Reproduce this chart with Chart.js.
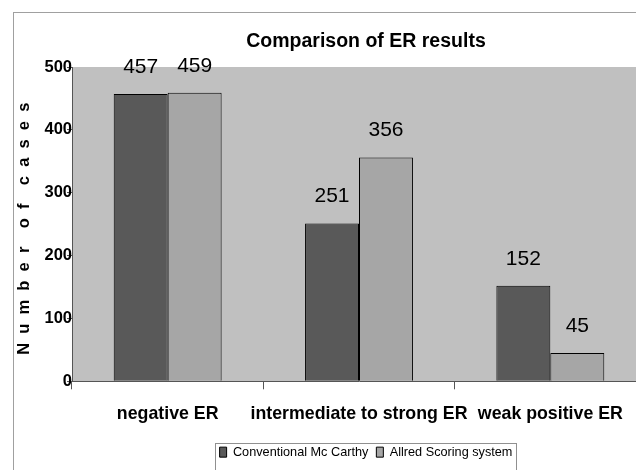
<!DOCTYPE html>
<html>
<head>
<meta charset="utf-8">
<script src="https://cdn.jsdelivr.net/npm/chart.js@4.4.1/dist/chart.umd.min.js"></script>
<style>
  html, body { margin: 0; padding: 0; background: #fff; overflow: hidden; }
  #wrap { position: relative; width: 636px; height: 470px; overflow: hidden; }
  #frame { position: absolute; left: 13px; top: 12px; width: 800px; height: 600px;
           border-left: 1px solid #a0a0a0; border-top: 1px solid #a0a0a0; }
  #chart { position: absolute; left: 0; top: 0; }
</style>
</head>
<body>
<div id="wrap">
  <div id="frame"></div>
  <canvas id="chart" width="732" height="470"></canvas>
</div>
<script>
const categories = ['negative ER', 'intermediate to strong ER', 'weak positive ER'];
const mcCarthy = [457, 251, 152];
const allred = [459, 356, 45];
const yTicks = [0, 100, 200, 300, 400, 500];

const FONT = '"Liberation Sans", Arial, sans-serif';
Chart.defaults.font.family = FONT;
Chart.defaults.color = '#000';

// grey plot area like the old Excel chart
const plotBg = {
  id: 'plotBg',
  beforeDraw(chart) {
    const {ctx, chartArea: a} = chart;
    ctx.save();
    ctx.fillStyle = '#c0c0c0';
    ctx.fillRect(a.left, a.top, a.right - a.left, a.bottom - a.top);
    ctx.restore();
  }
};

// numbers above bars
const valueLabels = {
  id: 'valueLabels',
  afterDatasetsDraw(chart) {
    const ctx = chart.ctx;
    ctx.save();
    ctx.font = '21px ' + FONT;
    ctx.fillStyle = '#000';
    ctx.textAlign = 'center';
    ctx.textBaseline = 'middle';
    chart.data.datasets.forEach((ds, i) => {
      chart.getDatasetMeta(i).data.forEach((bar, j) => {
        ctx.fillText(String(ds.data[j]), bar.x, bar.y - 27);
      });
    });
    ctx.restore();
  }
};

// thin frame round the legend
const legendBox = {
  id: 'legendBox',
  afterDraw(chart) {
    const hb = chart.legend && chart.legend.legendHitBoxes;
    if (!hb || !hb.length) return;
    const ctx = chart.ctx;
    const first = hb[0], last = hb[hb.length - 1];
    const x0 = Math.round(first.left - 5);
    const x1 = Math.round(last.left + last.width + 4);
    const y0 = Math.round(first.top - 3);
    ctx.save();
    ctx.strokeStyle = '#909090';
    ctx.lineWidth = 1;
    ctx.strokeRect(x0 + 0.5, y0 + 0.5, x1 - x0, 60);
    ctx.restore();
  }
};

new Chart(document.getElementById('chart'), {
  type: 'bar',
  data: {
    labels: categories,
    datasets: [{
      label: 'Conventional Mc Carthy',
      data: mcCarthy,
      backgroundColor: '#595959',
      borderColor: '#000',
      borderWidth: 1
    }, {
      label: 'Allred Scoring system',
      data: allred,
      backgroundColor: '#a6a6a6',
      borderColor: '#000',
      borderWidth: 1
    }]
  },
  options: {
    responsive: false,
    animation: false,
    barPercentage: 1,
    categoryPercentage: 0.564,
    layout: { padding: { top: 29.6, bottom: 1.5, left: 0, right: 0 } },
    scales: {
      x: {
        offset: true,
        grid: { offset: true, drawOnChartArea: false, drawTicks: true, tickLength: 8, color: '#555' },
        border: { display: true, color: '#555' },
        ticks: { font: { size: 17.75, weight: 'bold' }, color: '#000', padding: 14, maxRotation: 0, autoSkip: false },
        afterFit(s) { s.height = 56.5; }
      },
      y: {
        min: 0,
        max: 500,
        afterBuildTicks(s) { s.ticks = yTicks.map(v => ({ value: v })); },
        grid: { drawOnChartArea: false, drawTicks: true, tickLength: 5, color: '#555' },
        border: { display: true, color: '#555' },
        ticks: { font: { size: 16.5, weight: 'bold' }, color: '#000', padding: -5 },
        title: {
          display: true,
          text: 'N  u  m  b  e  r    o  f    c  a  s  e  s  ',
          font: { size: 16.5, weight: 'bold' },
          color: '#000',
          padding: { top: 15, bottom: 0 }
        },
        afterFit(s) { s.width = 72; }
      },
      spacer: {
        type: 'linear',
        position: 'right',
        grid: { display: false },
        border: { display: false },
        ticks: { display: false },
        afterFit(s) { s.width = 86; }
      }
    },
    plugins: {
      title: {
        display: true,
        text: 'Comparison of ER results',
        font: { size: 19.5, weight: 'bold' },
        color: '#000',
        padding: { top: 0, bottom: 14 }
      },
      legend: {
        position: 'bottom',
        labels: { boxWidth: 7, boxHeight: 10, padding: 8, font: { size: 12.7 }, color: '#000' }
      },
      tooltip: { enabled: false }
    }
  },
  plugins: [plotBg, valueLabels, legendBox]
});
</script>
</body>
</html>
